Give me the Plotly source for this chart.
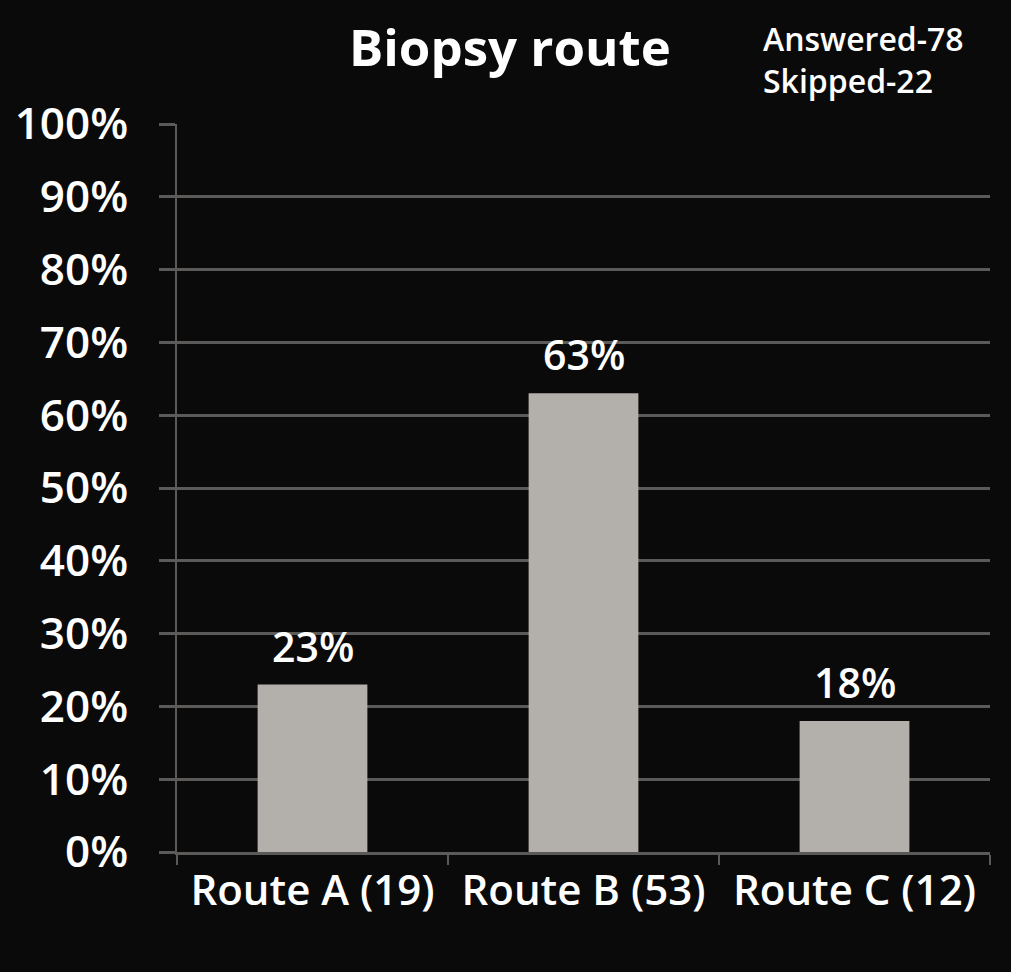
"""Biopsy route survey bar chart."""

import plotly.graph_objects as go

# Data
categories = ["Route A (19)", "Route B (53)", "Route C (12)"]
percentages = [23, 63, 18]
bar_labels = ["23%", "63%", "18%"]
y_ticks = [0, 10, 20, 30, 40, 50, 60, 70, 80, 90, 100]
y_tick_labels = [f"{v}%" for v in y_ticks]

BG = "#0a0a0a"
GRID = "#5c5a58"
BAR = "#b3afab"
FONT = "Open Sans"

fig = go.Figure()

fig.add_trace(
    go.Bar(
        x=categories,
        y=percentages,
        marker=dict(color=BAR, line=dict(width=0)),
        hoverinfo="x+y",
    )
)

# value labels above bars
for cat, val, lab in zip(categories, percentages, bar_labels):
    fig.add_annotation(
        x=cat, y=val, text=lab,
        xanchor="center", yanchor="bottom",
        yshift=9, showarrow=False,
        font=dict(family=FONT, size=41, color="white", weight=600),
    )

fig.update_layout(
    width=1011,
    height=972,
    paper_bgcolor=BG,
    plot_bgcolor=BG,
    margin=dict(l=177, r=21, t=124, b=120),
    bargap=0.595,
    showlegend=False,
    font=dict(family=FONT, color="white"),
)

fig.update_yaxes(
    range=[0, 100],
    tickvals=y_ticks,
    ticktext=y_tick_labels,
    tickfont=dict(family=FONT, size=44, color="white", weight=600),
    showgrid=True,
    gridcolor=GRID,
    gridwidth=3,
    zeroline=False,
    showline=True,
    linecolor=GRID,
    linewidth=2,
    ticks="outside",
    ticklen=16,
    tickwidth=3,
    tickcolor=GRID,
    ticklabelstandoff=22,
)

fig.update_xaxes(
    tickfont=dict(family=FONT, size=42, color="white", weight=600),
    showline=True,
    linecolor=GRID,
    linewidth=3,
    ticks="outside",
    tickson="boundaries",
    ticklen=10,
    tickwidth=2,
    tickcolor=GRID,
    ticklabelstandoff=0,
)

fig.add_annotation(
    text="<b>Biopsy route</b>",
    xref="paper", yref="paper",
    x=0.41, y=1.107,
    xanchor="center", yanchor="middle",
    showarrow=False,
    font=dict(family=FONT, size=51, color="white"),
)

fig.add_annotation(
    text="Answered-78<br>Skipped-22",
    xref="paper", yref="paper",
    x=0.718, y=1.089,
    xanchor="left", yanchor="middle",
    align="left",
    showarrow=False,
    font=dict(family=FONT, size=32, color="white", weight=600),
)

fig.write_html(
    "out.html",
    config={"displayModeBar": False},
    post_script="document.body.style.margin='0';",
)
